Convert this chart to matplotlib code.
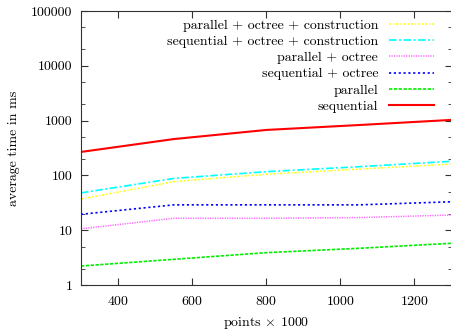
import matplotlib
matplotlib.use("Agg")
import matplotlib.pyplot as plt
from matplotlib.ticker import FixedLocator, LogLocator, NullFormatter

plt.rcParams['font.family'] = ['cmr10', 'DejaVu Serif']
plt.rcParams['mathtext.fontset'] = 'cm'
plt.rcParams['axes.formatter.use_mathtext'] = True

points = [300, 550, 800, 1050, 1300]
labels = ["parallel + octree + construction", "sequential + octree + construction",
          "parallel + octree", "sequential + octree", "parallel", "sequential"]
par_oct_con = [37, 77, 105, 130, 161]
seq_oct_con = [48, 88, 117, 144, 181]
par_oct = [10.6, 16.5, 16.5, 17, 18.9]
seq_oct = [19.5, 29, 29, 29, 33]
parallel = [2.22, 2.94, 3.89, 4.67, 5.77]
sequential = [268, 460, 675, 830, 1030]

series = [par_oct_con, seq_oct_con, par_oct, seq_oct, parallel, sequential]
colors = ['#ffff00', '#00ffff', '#ff66ff', '#0000ff', '#00ee00', '#ff0000']
styles = [(0, (1.5, 1.2, 0.8, 1.2)), (0, (4.5, 1.5, 1.2, 1.5)), (0, (0.8, 0.8)),
          (0, (1.3, 1.6)), (0, (2.0, 0.9)), '-']
widths = [1.1, 1.2, 1.1, 1.2, 1.2, 1.5]

fig = plt.figure(figsize=(4.51, 3.32), dpi=100)
ax = fig.add_axes([81/451, 1-285/332, 370.5/451, 274/332])
for s, c, ls, lw, lab in zip(series, colors, styles, widths, labels):
    ax.plot(points, s, color=c, linestyle=ls, linewidth=lw, label=lab)

ax.set_yscale('log')
ax.set_xlim(300, 1300)
ax.set_ylim(1, 100000)
ax.xaxis.set_major_locator(FixedLocator([400, 600, 800, 1000, 1200]))
ax.yaxis.set_major_locator(FixedLocator([1, 10, 100, 1000, 10000, 100000]))
ax.yaxis.set_major_formatter(matplotlib.ticker.FuncFormatter(lambda v, p: "%d" % round(v)))
ax.yaxis.set_minor_locator(LogLocator(base=10, subs=(2, 5), numticks=20))
ax.yaxis.set_minor_formatter(NullFormatter())
ax.tick_params(which='both', direction='in', top=True, right=True, color='#333333', labelsize=10)
ax.tick_params(which='major', length=5)
ax.tick_params(which='minor', length=3)
ax.tick_params(axis='x', which='major', pad=7)
ax.tick_params(axis='y', which='major', pad=6)
for sp in ax.spines.values():
    sp.set_color('#333333')
ax.set_xlabel(r"points $\times$ 1000", fontsize=10, labelpad=5)
ax.set_ylabel("average time in ms", fontsize=10, labelpad=8)

leg = ax.legend(loc='upper right', frameon=False, markerfirst=False, fontsize=10,
                handlelength=3.2, labelspacing=0.25, borderaxespad=0.3,
                bbox_to_anchor=(0.978, 1.006))

fig.savefig("out.png", dpi=100)
